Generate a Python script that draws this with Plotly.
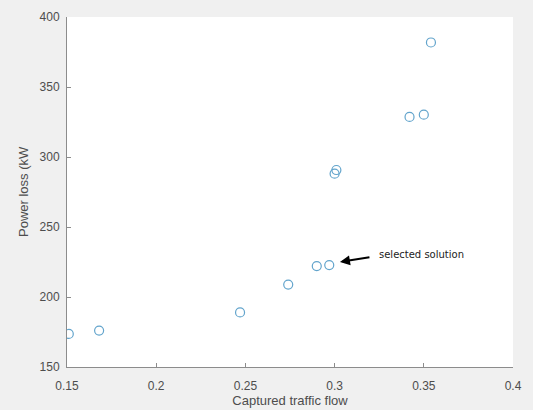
import plotly.graph_objects as go

# Data
captured_flow = [0.151, 0.168, 0.247, 0.274, 0.290, 0.297, 0.300, 0.301, 0.342, 0.350, 0.354]
power_loss = [173.6, 176.0, 189.0, 208.9, 222.1, 222.8, 288.1, 290.7, 328.6, 330.2, 381.8]

x_ticks = [0.15, 0.2, 0.25, 0.3, 0.35, 0.4]
x_ticklabels = ["0.15", "0.2", "0.25", "0.3", "0.35", "0.4"]
y_ticks = [150, 200, 250, 300, 350, 400]

selected_x, selected_y = 0.303, 225
label_text = "selected solution"

axis_grey = "#8c8c8c"
text_grey = "#4d4d4d"

fig = go.Figure()
fig.add_trace(go.Scatter(
    x=captured_flow, y=power_loss, mode="markers",
    marker=dict(symbol="circle-open", size=9, color="#62a4cc", line=dict(width=1.2)),
    showlegend=False, hoverinfo="skip",
))

fig.update_layout(
    width=533, height=410,
    margin=dict(l=67, r=20, t=17, b=43),
    paper_bgcolor="#f0f0f0",
    plot_bgcolor="white",
    font=dict(family="Liberation Sans, Arial, sans-serif", size=12, color=text_grey),
    xaxis=dict(
        range=[0.15, 0.4], tickvals=x_ticks, ticktext=x_ticklabels, automargin=False,
        showgrid=False, zeroline=False, showline=True, linecolor=axis_grey, linewidth=1,
        ticks="inside", ticklen=4, tickcolor=axis_grey, ticklabelstandoff=8,
        tickfont=dict(size=12, color=text_grey),
        title=dict(text="Captured traffic flow", font=dict(size=13, color=text_grey), standoff=3),
    ),
    yaxis=dict(
        range=[150, 400], tickvals=y_ticks, automargin=False,
        showgrid=False, zeroline=False, showline=True, linecolor=axis_grey, linewidth=1,
        ticks="inside", ticklen=4, tickcolor=axis_grey, ticklabelstandoff=4,
        tickfont=dict(size=12, color=text_grey),
    ),
    annotations=[
        dict(x=-44 / 446, y=0.5, xref="paper", yref="paper", text="Power loss (kW",
             textangle=-90, showarrow=False, font=dict(size=13, color=text_grey),
             xanchor="center", yanchor="middle"),
        dict(x=selected_x, y=selected_y, xref="x", yref="y", text="",
             showarrow=True, arrowhead=2, arrowsize=1, arrowwidth=2, arrowcolor="black",
             ax=31, ay=-5),
        dict(x=0.3238, y=230.7, xref="x", yref="y", text=label_text, showarrow=False,
             xanchor="left", yanchor="middle",
             font=dict(family="DejaVu Sans", size=10, color="#222222")),
    ],
)

fig.write_html("out.html", config={"displayModeBar": False},
               post_script="document.body.style.margin='0';")
